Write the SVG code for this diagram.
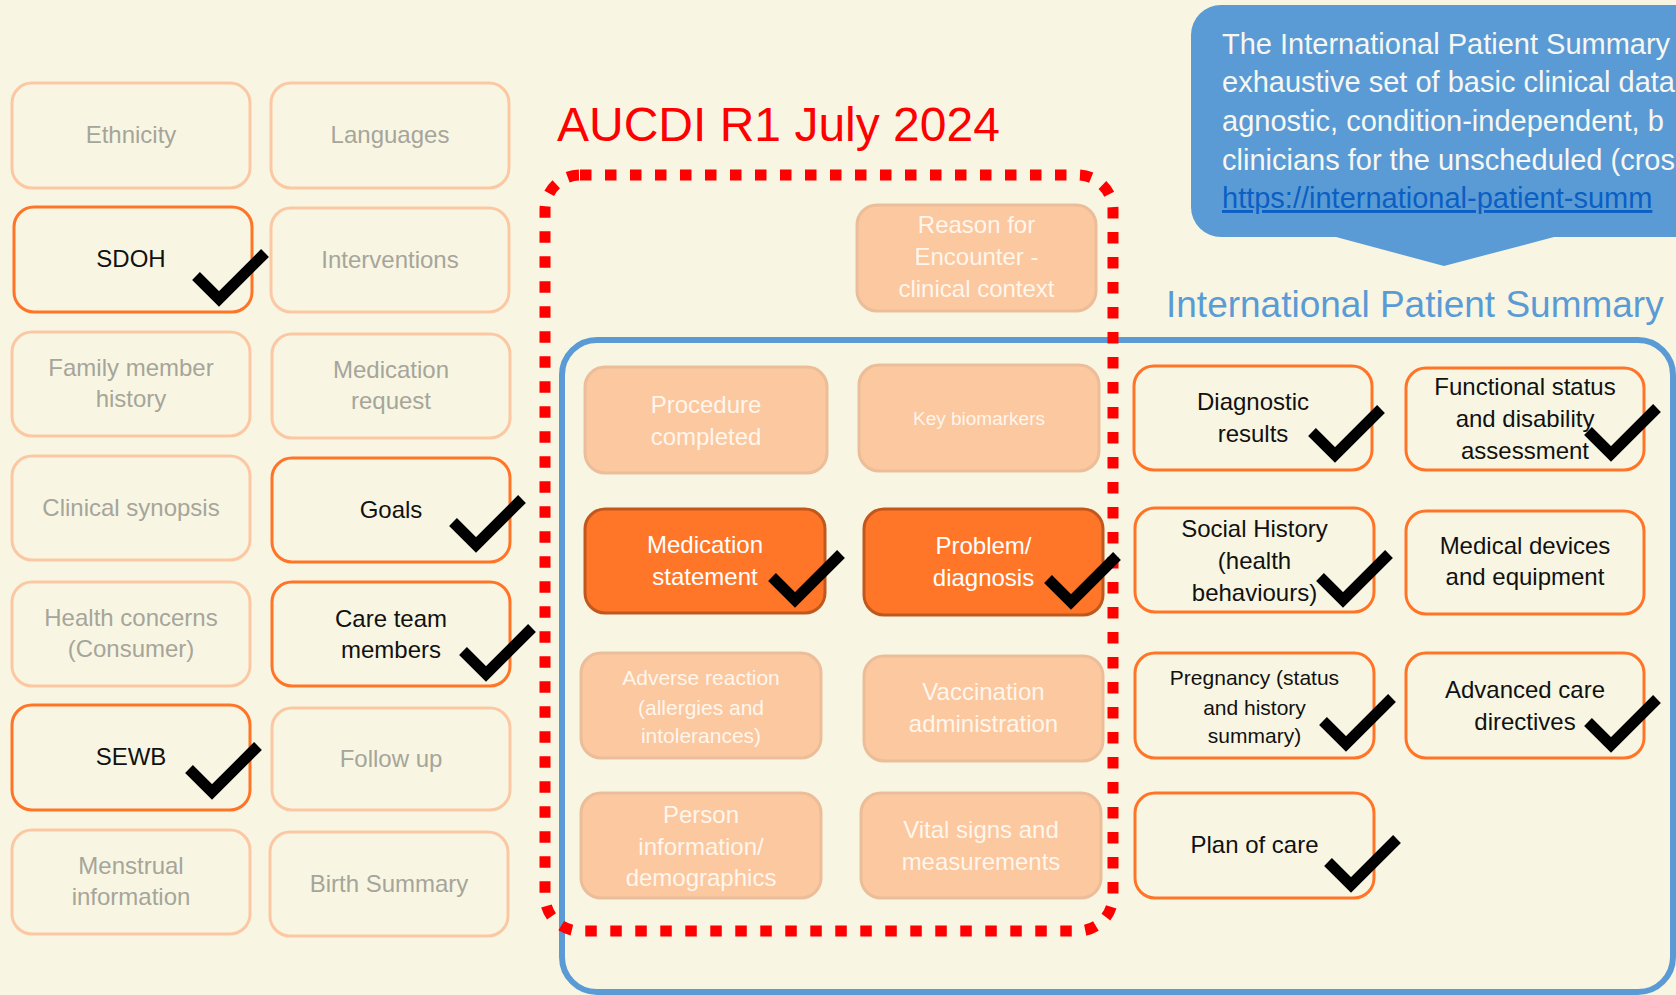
<svg xmlns="http://www.w3.org/2000/svg" width="1676" height="995" viewBox="0 0 1676 995">
<style>
  text { font-family: "Liberation Sans", Arial, sans-serif; text-anchor: middle; }
  .faded rect { fill: none; stroke: #FBC8A3; stroke-width: 3; }
  .faded text { fill: #A6A59A; font-size: 24px; }
  .active rect { fill: none; stroke: #FF7427; stroke-width: 3; }
  .active text { fill: #111111; font-size: 24px; }
  .peach rect { fill: #FBC8A0; stroke: #EBBD99; stroke-width: 3; }
  .peach text { fill: #FFF6EC; font-size: 24px; }
  .hot rect { fill: #FF7628; stroke: #C0581E; stroke-width: 3; }
  .hot text { fill: #FFFFFF; font-size: 24px; }
  .small text { font-size: 21px; }
  .callout text { fill: #F7F7F2; font-size: 29px; text-anchor: start; }
</style>
<defs>
  <path id="check" d="M-23,-23 L0,0 L46,-46" fill="none" stroke="#000" stroke-width="11" stroke-linejoin="miter" stroke-miterlimit="10"/>
</defs>
<rect x="0" y="0" width="1676" height="995" fill="#F8F6E3"/>

<!-- Callout -->
<g id="callout" class="callout">
  <path d="M1221,5 H1700 V237 H1554 L1444,266 L1336,237 H1221 A30,30 0 0 1 1191,207 V35 A30,30 0 0 1 1221,5 Z" fill="#5B9BD5"/>
  <text x="1222" y="54">The International Patient Summary</text>
  <text x="1222" y="92">exhaustive set of basic clinical data</text>
  <text x="1222" y="131">agnostic, condition-independent, b</text>
  <text x="1222" y="170">clinicians for the unscheduled (cros</text>
  <text x="1222" y="208" style="fill:#0A5FC4" text-decoration="underline">https://international-patient-summ</text>
</g>

<!-- Titles -->
<g id="title-aucdi">
  <text x="557" y="141" style="font-size:48px;fill:#FF0000;text-anchor:start">AUCDI R1 July 2024</text>
</g>
<g id="title-ips">
  <text x="1166" y="317" style="font-size:37px;fill:#5B9BD5;text-anchor:start">International Patient Summary</text>
</g>

<!-- Containers -->
<g id="ips-container">
  <rect x="562" y="340" width="1111" height="652" rx="35" fill="none" stroke="#5B9BD5" stroke-width="6"/>
</g>

<!-- Left column -->
<g id="ethnicity" class="faded"><rect x="12" y="83" width="238" height="105" rx="20"/><text x="131" y="143">Ethnicity</text></g>
<g id="languages" class="faded"><rect x="271" y="83" width="238" height="105" rx="20"/><text x="390" y="143">Languages</text></g>
<g id="sdoh" class="active"><rect x="14" y="207" width="238" height="105" rx="20"/><text x="131" y="267">SDOH</text></g>
<g id="interventions" class="faded"><rect x="271" y="208" width="238" height="104" rx="20"/><text x="390" y="267.5">Interventions</text></g>
<g id="family-member-history" class="faded"><rect x="12" y="332" width="238" height="104" rx="20"/><text x="131" y="376">Family member</text><text x="131" y="407">history</text></g>
<g id="medication-request" class="faded"><rect x="272" y="334" width="238" height="104" rx="20"/><text x="391" y="378">Medication</text><text x="391" y="409">request</text></g>
<g id="clinical-synopsis" class="faded"><rect x="12" y="456" width="238" height="104" rx="20"/><text x="131" y="515.5">Clinical synopsis</text></g>
<g id="goals" class="active"><rect x="272" y="458" width="238" height="104" rx="20"/><text x="391" y="517.5">Goals</text></g>
<g id="health-concerns" class="faded"><rect x="12" y="582" width="238" height="104" rx="20"/><text x="131" y="626">Health concerns</text><text x="131" y="657">(Consumer)</text></g>
<g id="care-team" class="active"><rect x="272" y="582" width="238" height="104" rx="20"/><text x="391" y="627">Care team</text><text x="391" y="658">members</text></g>
<g id="sewb" class="active"><rect x="12" y="705" width="238" height="105" rx="20"/><text x="131" y="765">SEWB</text></g>
<g id="follow-up" class="faded"><rect x="272" y="708" width="238" height="102" rx="20"/><text x="391" y="766.5">Follow up</text></g>
<g id="menstrual" class="faded"><rect x="12" y="830" width="238" height="104" rx="20"/><text x="131" y="874">Menstrual</text><text x="131" y="905">information</text></g>
<g id="birth-summary" class="faded"><rect x="270" y="832" width="238" height="104" rx="20"/><text x="389" y="891.5">Birth Summary</text></g>

<!-- Middle (AUCDI) -->
<g id="reason-for-encounter" class="peach"><rect x="857" y="205" width="239" height="106" rx="20"/><text x="976.5" y="233">Reason for</text><text x="976.5" y="265">Encounter -</text><text x="976.5" y="297">clinical context</text></g>
<g id="procedure-completed" class="peach"><rect x="585" y="367" width="242" height="106" rx="20"/><text x="706" y="413">Procedure</text><text x="706" y="445">completed</text></g>
<g id="key-biomarkers" class="peach"><rect x="859" y="365" width="240" height="106" rx="20"/><text x="979" y="425" style="font-size:19px">Key biomarkers</text></g>
<g id="medication-statement" class="hot"><rect x="585" y="509" width="240" height="104" rx="20"/><text x="705" y="553">Medication</text><text x="705" y="585">statement</text></g>
<g id="problem-diagnosis" class="hot"><rect x="864" y="509" width="239" height="106" rx="20"/><text x="983.5" y="554">Problem/</text><text x="983.5" y="586">diagnosis</text></g>
<g id="adverse-reaction" class="peach small"><rect x="581" y="653" width="240" height="105" rx="20"/><text x="701" y="685">Adverse reaction</text><text x="701" y="715">(allergies and</text><text x="701" y="743">intolerances)</text></g>
<g id="vaccination" class="peach"><rect x="864" y="656" width="239" height="105" rx="20"/><text x="983.5" y="700">Vaccination</text><text x="983.5" y="732">administration</text></g>
<g id="person-information" class="peach"><rect x="581" y="793" width="240" height="105" rx="20"/><text x="701" y="823">Person</text><text x="701" y="855">information/</text><text x="701" y="886">demographics</text></g>
<g id="vital-signs" class="peach"><rect x="861" y="793" width="240" height="105" rx="20"/><text x="981" y="838">Vital signs and</text><text x="981" y="870">measurements</text></g>

<!-- AUCDI boundary -->
<g id="aucdi-boundary">
  <rect x="545" y="175" width="568" height="756" rx="35" fill="none" stroke="#FF0000" stroke-width="11" stroke-dasharray="11.5 13.5"/>
</g>

<!-- Right column (IPS) -->
<g id="diagnostic-results" class="active"><rect x="1134" y="366" width="238" height="104" rx="20"/><text x="1253" y="410">Diagnostic</text><text x="1253" y="442">results</text></g>
<g id="functional-status" class="active"><rect x="1406" y="368" width="238" height="102" rx="20"/><text x="1525" y="395">Functional status</text><text x="1525" y="427">and disability</text><text x="1525" y="459">assessment</text></g>
<g id="social-history" class="active"><rect x="1135" y="508" width="239" height="104" rx="20"/><text x="1254.5" y="537">Social History</text><text x="1254.5" y="569">(health</text><text x="1254.5" y="601">behaviours)</text></g>
<g id="medical-devices" class="active"><rect x="1406" y="511" width="238" height="103" rx="20"/><text x="1525" y="554">Medical devices</text><text x="1525" y="585">and equipment</text></g>
<g id="pregnancy" class="active small"><rect x="1135" y="653" width="239" height="105" rx="20"/><text x="1254.5" y="685">Pregnancy (status</text><text x="1254.5" y="715">and history</text><text x="1254.5" y="743">summary)</text></g>
<g id="advanced-care" class="active"><rect x="1406" y="653" width="238" height="105" rx="20"/><text x="1525" y="698">Advanced care</text><text x="1525" y="730">directives</text></g>
<g id="plan-of-care" class="active"><rect x="1135" y="793" width="239" height="105" rx="20"/><text x="1254.5" y="853">Plan of care</text></g>

<!-- Connectors: none; check marks -->
<g id="connectors"></g>
<g id="checks">
  <use href="#check" transform="translate(219,299)"/>
  <use href="#check" transform="translate(476,545)"/>
  <use href="#check" transform="translate(486,674)"/>
  <use href="#check" transform="translate(212,792)"/>
  <use href="#check" transform="translate(795,600)"/>
  <use href="#check" transform="translate(1071,602)"/>
  <use href="#check" transform="translate(1335,455)"/>
  <use href="#check" transform="translate(1611,454)"/>
  <use href="#check" transform="translate(1343,600)"/>
  <use href="#check" transform="translate(1346,744)"/>
  <use href="#check" transform="translate(1611,745)"/>
  <use href="#check" transform="translate(1351,885)"/>
</g>
</svg>
